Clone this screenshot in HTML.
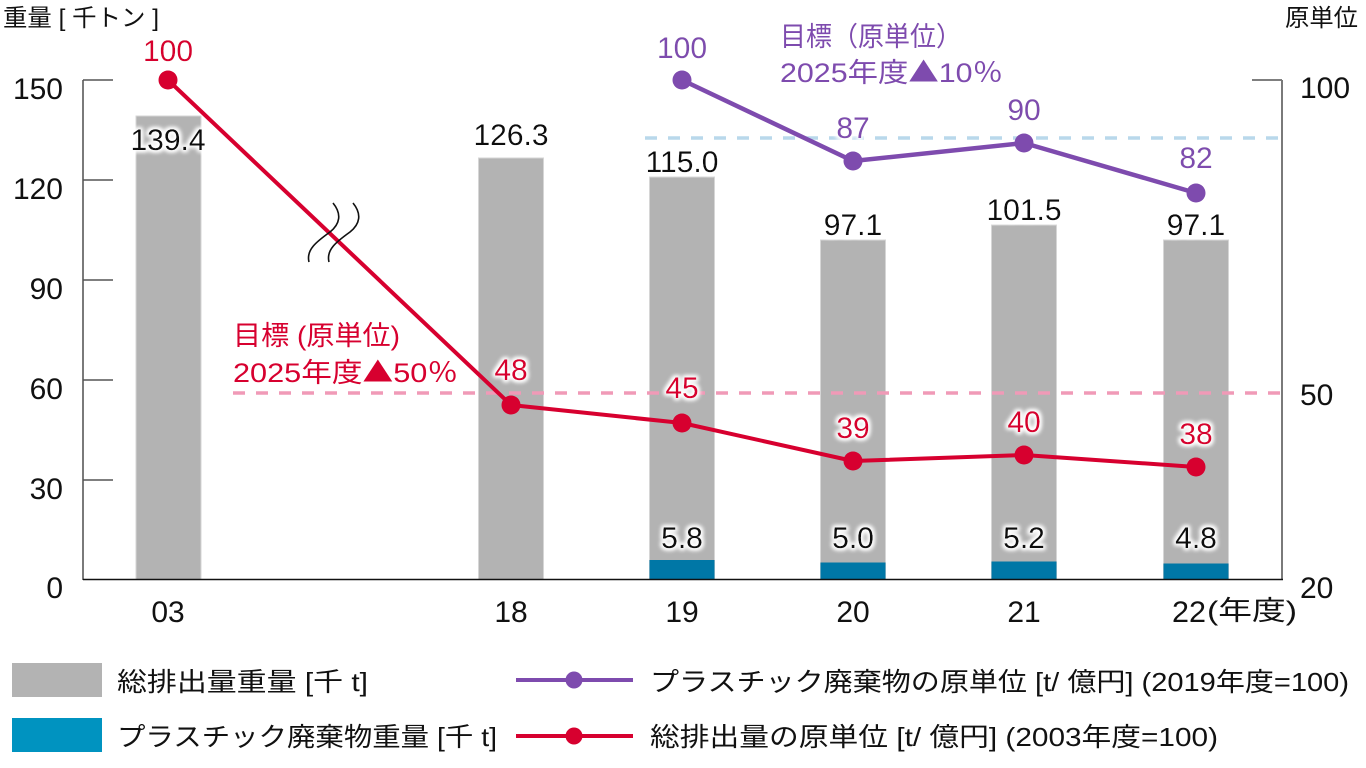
<!DOCTYPE html>
<html>
<head>
<meta charset="utf-8">
<style>
html,body{margin:0;padding:0;background:#fff;}
svg{display:block;}
text{font-family:"Liberation Sans","Noto Sans CJK JP",sans-serif;}
.num{font-size:30px;}
.cjk{font-family:"Noto Sans CJK JP",sans-serif;}
</style>
</head>
<body>
<svg width="1366" height="768" viewBox="0 0 1366 768" xmlns="http://www.w3.org/2000/svg">
<defs>
<filter id="glow" x="-30%" y="-40%" width="160%" height="180%">
  <feMorphology in="SourceAlpha" operator="dilate" radius="1.5" result="d"/>
  <feGaussianBlur in="d" stdDeviation="2.2" result="b"/>
  <feFlood flood-color="#ffffff"/>
  <feComposite in2="b" operator="in" result="w"/>
  <feMerge><feMergeNode in="w"/><feMergeNode in="w"/><feMergeNode in="SourceGraphic"/></feMerge>
</filter>
</defs>

<!-- titles -->
<text x="3" y="26" font-size="24" textLength="156" lengthAdjust="spacingAndGlyphs" fill="#111">重量 [ 千トン ]</text>
<text x="1285" y="26" font-size="24" textLength="73" lengthAdjust="spacingAndGlyphs" fill="#111">原単位</text>

<!-- bars (total) -->
<g fill="#b3b3b3" stroke="#d6d6d6" stroke-width="1">
  <rect x="136" y="116" width="65" height="463.5"/>
  <rect x="478.5" y="158" width="65" height="421.5"/>
  <rect x="649.5" y="177" width="65" height="402.5"/>
  <rect x="820.5" y="240" width="65" height="339.5"/>
  <rect x="991.5" y="225" width="65" height="354.5"/>
  <rect x="1163.5" y="240" width="65" height="339.5"/>
</g>
<!-- plastic bars -->
<g fill="#0077a6">
  <rect x="649.5" y="560" width="65" height="19.5"/>
  <rect x="820.5" y="562.5" width="65" height="17"/>
  <rect x="991.5" y="561.5" width="65" height="18"/>
  <rect x="1163.5" y="563.5" width="65" height="16"/>
</g>

<!-- axes -->
<line x1="83" y1="80" x2="83" y2="580" stroke="#7a7a7a" stroke-width="2"/>
<g stroke="#555" stroke-width="1.5">
  <line x1="83" y1="80" x2="113" y2="80"/>
  <line x1="83" y1="180" x2="113" y2="180"/>
  <line x1="83" y1="280" x2="113" y2="280"/>
  <line x1="83" y1="380" x2="113" y2="380"/>
  <line x1="83" y1="480" x2="113" y2="480"/>
  <line x1="1252" y1="80" x2="1282" y2="80"/>
</g>
<line x1="1282" y1="80" x2="1282" y2="580" stroke="#7a7a7a" stroke-width="2"/>
<line x1="83" y1="579.5" x2="1283" y2="579.5" stroke="#111" stroke-width="1.6"/>

<!-- left tick labels -->
<g class="num" fill="#111" text-anchor="end">
  <text x="63" y="99">150</text>
  <text x="63" y="199">120</text>
  <text x="63" y="299">90</text>
  <text x="63" y="399">60</text>
  <text x="63" y="499">30</text>
  <text x="63" y="598">0</text>
</g>
<!-- right tick labels -->
<g class="num" fill="#111">
  <text x="1300" y="98">100</text>
  <text x="1300" y="405">50</text>
  <text x="1300" y="598">20</text>
</g>

<!-- x labels -->
<g class="num" fill="#111" text-anchor="middle">
  <text x="168" y="622">03</text>
  <text x="511" y="622">18</text>
  <text x="682" y="622">19</text>
  <text x="853" y="622">20</text>
  <text x="1024" y="622">21</text>
</g>
<text class="num" x="1172" y="622" fill="#111" textLength="34" lengthAdjust="spacingAndGlyphs">22</text>
<text x="1207" y="620" font-size="27" fill="#111" textLength="90" lengthAdjust="spacingAndGlyphs">(年度)</text>

<!-- dashed target lines -->
<line x1="233" y1="393" x2="1282" y2="393" stroke="#f09ab7" stroke-width="3.5" stroke-dasharray="12 11"/>
<line x1="645" y1="138" x2="1282" y2="138" stroke="#b9d8eb" stroke-width="3.5" stroke-dasharray="12 11"/>

<!-- bar value labels -->
<g class="num" fill="#111" text-anchor="middle" filter="url(#glow)">
  <text x="168" y="150">139.4</text>
  <text x="511" y="145">126.3</text>
  <text x="682" y="172">115.0</text>
  <text x="853" y="235">97.1</text>
  <text x="1024" y="220">101.5</text>
  <text x="1196" y="235">97.1</text>
  <text x="682" y="548">5.8</text>
  <text x="853" y="548">5.0</text>
  <text x="1024" y="548">5.2</text>
  <text x="1196" y="548">4.8</text>
</g>

<!-- red line -->
<polyline points="168,80 511,405 682,423 853,461 1024,455 1196,467" fill="none" stroke="#d7002f" stroke-width="4" stroke-linejoin="round"/>
<!-- break mark -->
<g fill="none" stroke="#111" stroke-width="1.6">
  <path d="M333,203 C342,214 340,224 330,232 C316,242 306,250 309,262"/>
  <path d="M353,203 C362,214 360,224 350,232 C336,242 326,250 329,262"/>
</g>
<g fill="#d7002f">
  <circle cx="168" cy="80" r="9.5"/>
  <circle cx="511" cy="405" r="9.5"/>
  <circle cx="682" cy="423" r="9.5"/>
  <circle cx="853" cy="461" r="9.5"/>
  <circle cx="1024" cy="455" r="9.5"/>
  <circle cx="1196" cy="467" r="9.5"/>
</g>
<g class="num" fill="#d7002f" text-anchor="middle" filter="url(#glow)">
  <text x="168" y="61">100</text>
  <text x="511" y="380">48</text>
  <text x="682" y="398">45</text>
  <text x="853" y="438">39</text>
  <text x="1024" y="432">40</text>
  <text x="1196" y="444">38</text>
</g>
<text x="233" y="345" font-size="27" fill="#d7002f" textLength="167" lengthAdjust="spacingAndGlyphs">目標 (原単位)</text>
<text x="233" y="382" font-size="27" fill="#d7002f" textLength="225" lengthAdjust="spacingAndGlyphs">2025年度<tspan class="cjk">▲</tspan>50<tspan class="cjk">％</tspan></text>

<!-- purple line -->
<polyline points="682,80 853,161 1024,143 1196,193" fill="none" stroke="#7e4bae" stroke-width="4.5" stroke-linejoin="round"/>
<g fill="#7e4bae">
  <circle cx="682" cy="80" r="9.5"/>
  <circle cx="853" cy="161" r="9.5"/>
  <circle cx="1024" cy="143" r="9.5"/>
  <circle cx="1196" cy="193" r="9.5"/>
</g>
<g class="num" fill="#7e4bae" text-anchor="middle" filter="url(#glow)">
  <text x="682" y="58">100</text>
  <text x="853" y="138">87</text>
  <text x="1024" y="120">90</text>
  <text x="1196" y="168">82</text>
</g>
<text x="780" y="46" font-size="27" fill="#7e4bae" textLength="182" lengthAdjust="spacingAndGlyphs">目標（原単位）</text>
<text x="780" y="82" font-size="27" fill="#7e4bae" textLength="223" lengthAdjust="spacingAndGlyphs">2025年度<tspan class="cjk">▲</tspan>10<tspan class="cjk">％</tspan></text>

<!-- legend -->
<rect x="12" y="663" width="90" height="34" fill="#b3b3b3"/>
<rect x="12" y="718" width="90" height="34" fill="#0093c0"/>
<text x="117" y="691" font-size="26" fill="#111" textLength="251" lengthAdjust="spacingAndGlyphs">総排出量重量 [千 t]</text>
<text x="117" y="746" font-size="26" fill="#111" textLength="380" lengthAdjust="spacingAndGlyphs">プラスチック廃棄物重量 [千 t]</text>

<line x1="516" y1="680" x2="633" y2="680" stroke="#7e4bae" stroke-width="4"/>
<circle cx="574" cy="680" r="8.5" fill="#7e4bae"/>
<line x1="516" y1="736" x2="633" y2="736" stroke="#d7002f" stroke-width="4"/>
<circle cx="574" cy="736" r="8.5" fill="#d7002f"/>
<text x="650" y="691" font-size="26" fill="#111" textLength="699" lengthAdjust="spacingAndGlyphs">プラスチック廃棄物の原単位 [t/ 億円] (2019年度=100)</text>
<text x="650" y="746" font-size="26" fill="#111" textLength="568" lengthAdjust="spacingAndGlyphs">総排出量の原単位 [t/ 億円] (2003年度=100)</text>
</svg>
</body>
</html>
